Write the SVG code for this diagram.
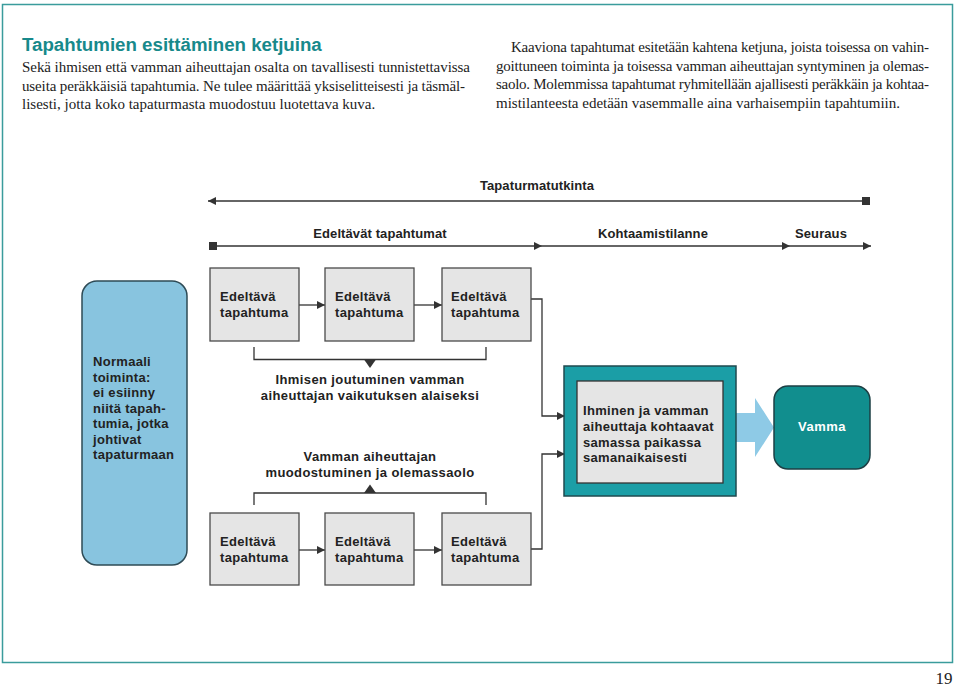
<svg xmlns="http://www.w3.org/2000/svg" width="959" height="690" viewBox="0 0 959 690">
<style>
.body{font-family:"Liberation Serif","Times New Roman",serif;font-size:15px;fill:#222}
.d{font-family:"Liberation Sans",Arial,sans-serif;font-size:13px;font-weight:bold;fill:#222;letter-spacing:0.3px}
.lbl{font-family:"Liberation Sans",Arial,sans-serif;font-size:13px;font-weight:bold;fill:#222;text-anchor:middle;letter-spacing:0.1px}
.box{fill:#e5e5e5;stroke:#4a4a4a;stroke-width:1.3}
.ln{fill:none;stroke:#333;stroke-width:1.3}
</style>
<defs>
<marker id="arr" viewBox="0 0 10 10" refX="10" refY="5" markerWidth="8" markerHeight="8" markerUnits="userSpaceOnUse" orient="auto-start-reverse">
<path d="M0,0 L10,5 L0,10 Z" fill="#333"/>
</marker>
<marker id="sq" viewBox="0 0 10 10" refX="5" refY="5" markerWidth="8" markerHeight="8" markerUnits="userSpaceOnUse">
<rect x="0" y="0" width="10" height="10" fill="#333"/>
</marker>
</defs>
<rect x="0" y="0" width="959" height="690" fill="#fff"/>
<rect x="2.5" y="4.5" width="950" height="658" fill="none" stroke="#3a9c9c" stroke-width="1.5"/>

<g id="intro">
<text x="22" y="51" font-family="'Liberation Sans',Arial,sans-serif" font-size="18.7" font-weight="bold" fill="#17898b">Tapahtumien esittäminen ketjuina</text>
<text class="body" x="22" y="72" textLength="448" lengthAdjust="spacing">Sekä ihmisen että vamman aiheuttajan osalta on tavallisesti tunnistettavissa</text>
<text class="body" x="22" y="90.5" textLength="443" lengthAdjust="spacing">useita peräkkäisiä tapahtumia. Ne tulee määrittää yksiselitteisesti ja täsmäl-</text>
<text class="body" x="22" y="109">lisesti, jotta koko tapaturmasta muodostuu luotettava kuva.</text>
<text class="body" x="511" y="52" textLength="418" lengthAdjust="spacing">Kaaviona tapahtumat esitetään kahtena ketjuna, joista toisessa on vahin-</text>
<text class="body" x="496" y="70.5" textLength="433" lengthAdjust="spacing">goittuneen toiminta ja toisessa vamman aiheuttajan syntyminen ja olemas-</text>
<text class="body" x="496" y="89" textLength="433" lengthAdjust="spacing">saolo. Molemmissa tapahtumat ryhmitellään ajallisesti peräkkäin ja kohtaa-</text>
<text class="body" x="496" y="107.5">mistilanteesta edetään vasemmalle aina varhaisempiin tapahtumiin.</text>
</g>

<g id="timeline-labels">
<text class="lbl" x="537" y="190">Tapaturmatutkinta</text>
<text class="lbl" x="380" y="238">Edeltävät tapahtumat</text>
<text class="lbl" x="653" y="238">Kohtaamistilanne</text>
<text class="lbl" x="821" y="238">Seuraus</text>
</g>

<g id="connectors">
<line class="ln" x1="866" y1="201" x2="208" y2="201" marker-start="url(#sq)" marker-end="url(#arr)"/>
<line class="ln" x1="213" y1="246" x2="542" y2="246" marker-start="url(#sq)" marker-end="url(#arr)"/>
<line class="ln" x1="542" y1="246" x2="790" y2="246" marker-end="url(#arr)"/>
<line class="ln" x1="790" y1="246" x2="871" y2="246" marker-end="url(#arr)"/>
<line class="ln" x1="299" y1="305" x2="325" y2="305" marker-end="url(#arr)"/>
<line class="ln" x1="414" y1="305" x2="442" y2="305" marker-end="url(#arr)"/>
<line class="ln" x1="299" y1="550" x2="325" y2="550" marker-end="url(#arr)"/>
<line class="ln" x1="414" y1="550" x2="442" y2="550" marker-end="url(#arr)"/>
<polyline class="ln" points="254,347 254,359.5 486,359.5 486,347"/>
<path d="M364,359.5 L376,359.5 L370,368 Z" fill="#333"/>
<polyline class="ln" points="254,505 254,493 486,493 486,505"/>
<path d="M364,493 L376,493 L370,484.5 Z" fill="#333"/>
<polyline class="ln" points="531,299 542,299 542,416 565,416" marker-end="url(#arr)"/>
<polyline class="ln" points="531,549 542,549 542,454 565,454" marker-end="url(#arr)"/>
<path d="M736,413 L755,413 L755,398 L774,427.5 L755,457 L755,442 L736,442 Z" fill="#8ecae6"/>
</g>

<g id="normaali">
<rect x="82" y="281" width="105" height="284" rx="15" fill="#88c4df" stroke="#2e4b56" stroke-width="1.5"/>
<text class="d" x="93" y="366">Normaali</text>
<text class="d" x="93" y="381.5">toiminta:</text>
<text class="d" x="93" y="397">ei esiinny</text>
<text class="d" x="93" y="412.5">niitä tapah-</text>
<text class="d" x="93" y="428">tumia, jotka</text>
<text class="d" x="93" y="443.5">johtivat</text>
<text class="d" x="93" y="459">tapaturmaan</text>
</g>

<g id="top1"><rect class="box" x="210" y="268" width="89" height="73"/><text class="d" x="220" y="301">Edeltävä</text><text class="d" x="220" y="317">tapahtuma</text></g>
<g id="top2"><rect class="box" x="325" y="268" width="89" height="73"/><text class="d" x="335" y="301">Edeltävä</text><text class="d" x="335" y="317">tapahtuma</text></g>
<g id="top3"><rect class="box" x="442" y="268" width="89" height="73"/><text class="d" x="451" y="301">Edeltävä</text><text class="d" x="451" y="317">tapahtuma</text></g>

<g id="bot1"><rect class="box" x="210" y="513" width="89" height="72"/><text class="d" x="220" y="546">Edeltävä</text><text class="d" x="220" y="562">tapahtuma</text></g>
<g id="bot2"><rect class="box" x="325" y="513" width="89" height="72"/><text class="d" x="335" y="546">Edeltävä</text><text class="d" x="335" y="562">tapahtuma</text></g>
<g id="bot3"><rect class="box" x="442" y="513" width="89" height="72"/><text class="d" x="451" y="546">Edeltävä</text><text class="d" x="451" y="562">tapahtuma</text></g>

<g id="ihmisen">
<text class="lbl" x="370" y="384" style="letter-spacing:0.4px">Ihmisen joutuminen vamman</text>
<text class="lbl" x="370" y="399.5" style="letter-spacing:0.4px">aiheuttajan vaikutuksen alaiseksi</text>
</g>
<g id="vamman-aiheuttajan">
<text class="lbl" x="370" y="461" style="letter-spacing:0.4px">Vamman aiheuttajan</text>
<text class="lbl" x="370" y="476.5" style="letter-spacing:0.4px">muodostuminen ja olemassaolo</text>
</g>

<g id="kohtaaminen">
<rect x="564" y="366" width="172" height="130" fill="#1b9ea6" stroke="#1f4a4f" stroke-width="1.5"/>
<rect x="577" y="381" width="146" height="102" fill="#e5e5e5" stroke="#333" stroke-width="1.3"/>
<text class="d" x="583" y="415">Ihminen ja vamman</text>
<text class="d" x="583" y="431">aiheuttaja kohtaavat</text>
<text class="d" x="583" y="446.5">samassa paikassa</text>
<text class="d" x="583" y="462">samanaikaisesti</text>
</g>

<g id="vamma">
<rect x="774" y="386" width="96" height="83" rx="14" fill="#118e8e" stroke="#1d3f44" stroke-width="1.5"/>
<text class="lbl" x="822" y="431" style="fill:#fff;letter-spacing:0.5px">Vamma</text>
</g>

<text x="944" y="684" text-anchor="middle" font-family="'Liberation Serif','Times New Roman',serif" font-size="17" fill="#222">19</text>
</svg>
